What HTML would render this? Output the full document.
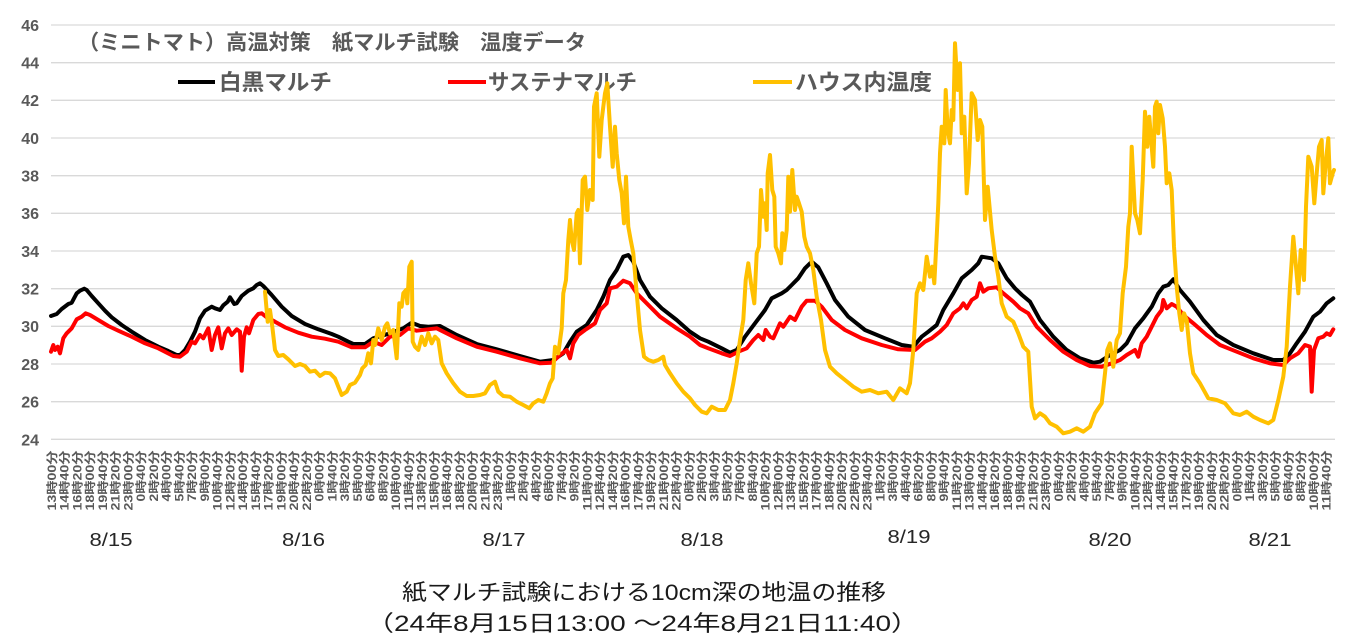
<!DOCTYPE html>
<html><head><meta charset="utf-8"><style>
html,body{margin:0;padding:0;background:#fff;}
svg{display:block;}
text{font-family:"Liberation Sans","Noto Sans CJK JP",sans-serif;}
</style></head><body>
<svg width="1348" height="637" viewBox="0 0 1348 637" xmlns="http://www.w3.org/2000/svg">
<rect width="1348" height="637" fill="#fff"/>
<g stroke="#d9d9d9" stroke-width="1.3">
<line x1="51" x2="1335" y1="25" y2="25"/>
<line x1="51" x2="1335" y1="62.7" y2="62.7"/>
<line x1="51" x2="1335" y1="100.3" y2="100.3"/>
<line x1="51" x2="1335" y1="138" y2="138"/>
<line x1="51" x2="1335" y1="175.7" y2="175.7"/>
<line x1="51" x2="1335" y1="213.3" y2="213.3"/>
<line x1="51" x2="1335" y1="251" y2="251"/>
<line x1="51" x2="1335" y1="288.7" y2="288.7"/>
<line x1="51" x2="1335" y1="326.3" y2="326.3"/>
<line x1="51" x2="1335" y1="364" y2="364"/>
<line x1="51" x2="1335" y1="401.7" y2="401.7"/>
<line x1="51" x2="1335" y1="439.3" y2="439.3"/>
</g>
<g fill="#595959" font-size="16" font-weight="bold" text-anchor="end">
<text x="39" y="31">46</text>
<text x="39" y="68.5">44</text>
<text x="39" y="106">42</text>
<text x="39" y="144">40</text>
<text x="39" y="181.5">38</text>
<text x="39" y="219">36</text>
<text x="39" y="257">34</text>
<text x="39" y="294.5">32</text>
<text x="39" y="332">30</text>
<text x="39" y="370">28</text>
<text x="39" y="407.5">26</text>
<text x="39" y="445.5">24</text>
</g>
<text x="78" y="49.5" fill="#595959" font-size="21" font-weight="bold" textLength="508" lengthAdjust="spacingAndGlyphs">（ミニトマト）高温対策　紙マルチ試験　温度データ</text>
<line x1="178" x2="215" y1="82" y2="82" stroke="#000" stroke-width="4"/>
<text x="219" y="90" fill="#595959" font-size="22" font-weight="bold" textLength="113" lengthAdjust="spacingAndGlyphs">白黒マルチ</text>
<line x1="448" x2="486" y1="82" y2="82" stroke="#ff0000" stroke-width="4"/>
<text x="488" y="90" fill="#595959" font-size="22" font-weight="bold" textLength="149" lengthAdjust="spacingAndGlyphs">サステナマルチ</text>
<line x1="753" x2="792" y1="82" y2="82" stroke="#ffc000" stroke-width="4"/>
<text x="795" y="90" fill="#595959" font-size="22" font-weight="bold" textLength="137" lengthAdjust="spacingAndGlyphs">ハウス内温度</text>

<g fill="none" stroke-linejoin="round" stroke-linecap="round" stroke-width="4">
<polyline stroke="#000" points="51,316 56.7,314 61.7,309 68.3,304 71.7,302.7 76.7,293.3 80,290.7 84.3,288.7 86.7,290 91.7,296 98.3,303.3 105,310.7 111.7,317.3 121.7,325 131.7,331.7 145,340 158.3,346.7 168.3,351 176.7,355 180,355 185,350 190,341.7 195,331.7 200,318.3 205,310.7 211.7,306.7 215,308.3 220,310 223.3,305.3 227.7,301.7 230,297.3 234.3,304 236.7,303.3 241.7,296 248.3,290.7 253.3,288.3 256.7,285 260,283.3 263.3,286 271.7,295 281.7,306.7 291.7,316 305,324 318.3,329.3 331.7,334 338.3,336.7 348.3,341.7 353.3,344 365,344 373.3,338.3 390,333.3 403.3,328.3 411.7,322.7 420,326 428.3,326.7 440,326 456.7,335 476.7,344 496.7,349.3 520,356 540,361.7 553.3,360 563.3,353.3 570,341.7 576.7,331.7 586.7,325 596.7,310 603.3,296.7 610,280 616.7,270 623.3,256.7 628.3,255 633.3,261.7 640,280 650,296.7 661.7,308.3 676.7,320 690,331.7 700,338.3 708.3,341.7 721.7,348.3 730,352.7 736.7,350 745,336.7 755,323.3 765,310 771.7,298.3 781.7,293.3 786.7,290 791.7,285 798.3,278.3 805,268.3 811.7,261.7 818.3,267.3 826.7,283.3 835,300 848.3,316.7 865,330 885,338.3 901.7,345 913.3,346.7 921.7,336.7 928.3,331.7 936.7,325 943.3,310 953.3,293.3 961.7,278.3 971.7,270 978.3,263.3 981.7,256.7 991.7,258.3 998.3,263.3 1006.7,278.3 1015,288.3 1022,295 1030,301.7 1040,320 1053.3,336.7 1066.7,350 1080,358.3 1093.3,362.7 1100,361.7 1110,355 1120,350 1126.7,343.3 1135,328.3 1143.3,318.3 1151.7,306.7 1158.3,293.3 1163.3,286.7 1168.3,285 1173.3,279.3 1180,290 1190,301.7 1203.3,320 1216.7,335 1233.3,345 1253.3,353.3 1273.3,360 1283.3,360 1290,353.3 1296.7,343.3 1305,331.7 1313.3,316.7 1320,311.7 1326.7,303.3 1333.3,298.3"/>
<polyline stroke="#ff0000" points="51,351.7 53.3,345 55,350 57.7,346.7 60,353.3 63.3,338.3 66.7,333.3 71.7,328.3 76.7,319.3 81.7,316.7 85.7,313.3 90,315 98.3,320 108.3,326 118.3,330.7 131.7,336.7 145,343.3 158.3,348.3 173.3,356 180,356.7 186.7,351.7 191.7,341.7 195,343.3 200,335 203.3,338.3 208.3,328.3 211.7,350 215,335 218.3,327.3 221.7,348.3 225,333.3 228.3,328.3 231.7,335 236.7,329.3 240,331.7 241.7,370.7 244,336.7 246.7,327.3 249,333.3 253.3,320 258.3,314 261.7,313.3 266.7,317.3 275,321.7 285,327.3 298.3,332.7 311.7,336.7 325,338.7 338.3,341.7 351.7,347.3 365,347.3 373.3,341.7 381.7,345 390,336.7 400,335 408.3,328.3 416.7,330.7 436.7,328.3 456.7,338.3 476.7,346.7 496.7,351.7 520,358.3 540,363.3 551.7,362.7 560,355 566.7,350 570,358.3 573.3,343.3 578.3,335 585,330 590,326.7 595,323.3 600,310 606.7,303.3 610,288.3 616.7,286.7 623.3,280.7 630,283.3 636.7,293.3 646.7,303.3 660,316.7 676.7,328.3 690,336.7 700,345 708.3,348.3 721.7,353.3 730,356 738.3,351.7 746.7,348.3 753.3,340 758.3,335 763.3,340 765.7,330 770,336.7 773.3,338.3 780,323.3 783.3,326.7 790,316.7 795,320 801.7,306.7 806.7,300.7 815,300.7 821.7,306.7 831.7,320 845,330 861.7,338.3 881.7,345 898.3,349.3 915,350 925,341.7 931.7,338.3 940,331.7 946.7,325 953.3,313.3 960,308.3 963.3,303.3 966.7,308.3 971.7,300 976.7,296.7 980,283.3 983.3,291.7 988.3,288.3 996.7,287.3 1003.3,293.3 1013.3,301.7 1020,308.3 1028.3,313.3 1036.7,326.7 1050,340 1063.3,351.7 1076.7,360 1090,366 1101.7,366.7 1111.7,363.3 1120,360 1126.7,355 1135,350 1138.3,356.7 1141.7,343.3 1146.7,336.7 1151.7,326.7 1156.7,316.7 1161.7,310 1163.3,300 1166.7,308.3 1171.7,304 1176.7,306.7 1183.3,315 1193.3,323.3 1206.7,335 1220,345 1236.7,351.7 1253.3,358.3 1270,363.3 1283.3,365 1290,358.3 1298.3,353.3 1305,345 1310,346.7 1311.7,391.7 1314,350 1318.3,338.3 1323.3,336.7 1326.7,333.3 1330,335 1333.3,329.3"/>
<polyline stroke="#ffc000" points="265,291.7 267.7,321.7 270,310 272.3,326.7 275,350 278.3,356 283.3,355 288.3,359.3 295,366 300,364 305,366 310,371.7 315,370.7 320,376 325,372.7 330,373.3 335,378.3 338.3,386.7 341.7,395 346.7,391.7 350,385 355,382.7 360,375 362.3,368.3 365.7,365 368.3,353.3 371,363.3 373.3,340 375,345 378.3,328.3 381.7,340 385,326.7 387.3,323.3 390,333.3 393.3,330 396.7,358.3 399.3,303.3 401.7,306.7 403.3,293.3 406,290 407.3,303.3 409.3,266.7 411.7,261.7 412.7,341.7 415,346.7 418.3,350 421.7,336.7 425,345 428.3,333.3 431.7,343.3 435,336.7 438.3,340 441.7,363.3 446.7,373.3 453.3,383.3 460,391.7 466.7,396 473.3,396 480,395 485,393.3 490,385 495,381.7 498.3,391.7 503.3,396 510,396.7 516.7,401.7 523.3,405 529.3,408.3 533.3,403.3 538.3,400 543.3,401.7 546.7,393.3 550,383.3 552.7,378.3 555,346.7 558.3,353.3 561.7,328.3 563.3,293.3 566,280 568.3,240 570,220 571.7,240 574,250 576.7,213.3 578.3,210 580,263.3 582.7,180 585,176.7 587.3,210 590,190 592.7,200 594,106.7 596.7,93.3 599.3,156.7 601.7,120 603.3,106.7 605,93.3 607.3,83.3 610,126.7 612.7,166.7 615,126.7 616.7,153.3 619.3,180 621.7,193.3 624,223.3 626,176.7 628.3,226.7 630.7,240 633.3,253.3 636.7,293.3 640,330 644,356.7 648.3,360 653.3,361.7 658.3,360 663.3,356.7 665,365 670,373.3 676.7,383.3 683.3,391.7 690,398.3 695,405 701.7,411.7 706.7,413.3 711.7,406.7 718.3,410 725,410 730,400 733.3,383.3 736.7,363.3 740,340 743.3,320 745.7,280 748.3,263.3 751,283.3 754.3,303.3 756.7,253.3 759,246.7 761,190 763.3,216.7 765,203.3 766.7,230 767.7,173.3 770,155 772.3,190 774.3,196.7 775.7,246.7 778.3,253.3 781,263.3 782.3,233.3 784.3,250 786.7,230 788.3,176.7 790,211.7 792.3,170 795,210 796.7,196.7 799,203.3 801.7,211.7 804.3,236.7 806.7,246.7 810,253.3 813.3,270 816.7,296.7 821,320 825,350 830,366.7 836.7,373.3 845,380 853.3,386.7 861.7,391.7 870,390 878.3,393.3 886.7,391.7 893.3,400 900,388.3 906.7,393.3 910,383.3 913.3,350 916.7,293.3 920,283.3 923.3,290 926.7,256.7 930,276.7 932.3,266.7 934.3,283.3 936.7,236.7 938.3,203.3 940,153.3 941.7,126.7 944.3,143.3 945.7,90 947.7,130 950,143.3 951.7,110 953.3,120 955,43.3 957.7,90 960,63.3 961.7,133.3 964.3,116.7 966.7,193.3 969,163.3 971.7,93.3 975,100 977.7,140 980,120 982.3,126.7 985,220 987.7,186.7 991.7,230 995,256.7 998.3,276.7 1001.7,303.3 1006.7,316.7 1013.3,321.7 1018.3,333.3 1023.3,346.7 1028.3,351.7 1031.7,406.7 1035,418.3 1040,413.3 1045,416.7 1050,423.3 1056.7,426.7 1063.3,433.3 1070,431.7 1076.7,428.3 1083.3,431.7 1090,426.7 1095,413.3 1101.7,403.3 1105,373.3 1107.3,350 1110,343.3 1113.3,366.7 1116.7,340 1120,333.3 1122.7,293.3 1126,266.7 1128.3,226.7 1130,213.3 1131.7,146.7 1135,213.3 1137.3,220 1140,233.3 1142.7,180 1145,111.7 1147.3,146.7 1149.3,116.7 1151.7,146.7 1153.3,166.7 1155,106.7 1156.7,101.7 1158.3,133.3 1160,105 1162.7,118.3 1165,146.7 1166.7,183.3 1169.3,173.3 1171.7,190 1174,246.7 1176.7,286.7 1179.3,313.3 1181.7,330 1184,313.3 1186.7,320 1190,353.3 1193.3,373.3 1200,383.3 1208.3,398.3 1216.7,400 1225,403.3 1233.3,413.3 1240,415 1246.7,411.7 1253.3,416.7 1260,420 1268.3,423.3 1273.3,420 1278.3,400 1283.3,376.7 1286.7,346.7 1290,286.7 1293.3,236.7 1296,266.7 1298.3,293.3 1300.7,250 1304,280 1306,206.7 1308.3,156.7 1311.7,166.7 1314.3,203.3 1316.7,173.3 1319,146.7 1321.7,140 1323.3,193.3 1326,160 1328.3,138.3 1330,183.3 1332.7,173.3 1334,170"/>
</g>

<g fill="#595959" font-size="11.5" font-weight="bold">
<text transform="translate(56,510.5) rotate(-90)" textLength="60" lengthAdjust="spacingAndGlyphs">13時00分</text>
<text transform="translate(68.7,510.5) rotate(-90)" textLength="60" lengthAdjust="spacingAndGlyphs">14時40分</text>
<text transform="translate(81.5,510.5) rotate(-90)" textLength="60" lengthAdjust="spacingAndGlyphs">16時20分</text>
<text transform="translate(94.2,510.5) rotate(-90)" textLength="60" lengthAdjust="spacingAndGlyphs">18時00分</text>
<text transform="translate(107,510.5) rotate(-90)" textLength="60" lengthAdjust="spacingAndGlyphs">19時40分</text>
<text transform="translate(119.7,510.5) rotate(-90)" textLength="60" lengthAdjust="spacingAndGlyphs">21時20分</text>
<text transform="translate(132.5,510.5) rotate(-90)" textLength="60" lengthAdjust="spacingAndGlyphs">23時00分</text>
<text transform="translate(145.2,501.5) rotate(-90)" textLength="51" lengthAdjust="spacingAndGlyphs">0時40分</text>
<text transform="translate(158,501.5) rotate(-90)" textLength="51" lengthAdjust="spacingAndGlyphs">2時20分</text>
<text transform="translate(170.7,501.5) rotate(-90)" textLength="51" lengthAdjust="spacingAndGlyphs">4時00分</text>
<text transform="translate(183.5,501.5) rotate(-90)" textLength="51" lengthAdjust="spacingAndGlyphs">5時40分</text>
<text transform="translate(196.2,501.5) rotate(-90)" textLength="51" lengthAdjust="spacingAndGlyphs">7時20分</text>
<text transform="translate(208.9,501.5) rotate(-90)" textLength="51" lengthAdjust="spacingAndGlyphs">9時00分</text>
<text transform="translate(221.7,510.5) rotate(-90)" textLength="60" lengthAdjust="spacingAndGlyphs">10時40分</text>
<text transform="translate(234.4,510.5) rotate(-90)" textLength="60" lengthAdjust="spacingAndGlyphs">12時20分</text>
<text transform="translate(247.2,510.5) rotate(-90)" textLength="60" lengthAdjust="spacingAndGlyphs">14時00分</text>
<text transform="translate(259.9,510.5) rotate(-90)" textLength="60" lengthAdjust="spacingAndGlyphs">15時40分</text>
<text transform="translate(272.7,510.5) rotate(-90)" textLength="60" lengthAdjust="spacingAndGlyphs">17時20分</text>
<text transform="translate(285.4,510.5) rotate(-90)" textLength="60" lengthAdjust="spacingAndGlyphs">19時00分</text>
<text transform="translate(298.2,510.5) rotate(-90)" textLength="60" lengthAdjust="spacingAndGlyphs">20時40分</text>
<text transform="translate(310.9,510.5) rotate(-90)" textLength="60" lengthAdjust="spacingAndGlyphs">22時20分</text>
<text transform="translate(323.6,501.5) rotate(-90)" textLength="51" lengthAdjust="spacingAndGlyphs">0時00分</text>
<text transform="translate(336.4,501.5) rotate(-90)" textLength="51" lengthAdjust="spacingAndGlyphs">1時40分</text>
<text transform="translate(349.1,501.5) rotate(-90)" textLength="51" lengthAdjust="spacingAndGlyphs">3時20分</text>
<text transform="translate(361.9,501.5) rotate(-90)" textLength="51" lengthAdjust="spacingAndGlyphs">5時00分</text>
<text transform="translate(374.6,501.5) rotate(-90)" textLength="51" lengthAdjust="spacingAndGlyphs">6時40分</text>
<text transform="translate(387.4,501.5) rotate(-90)" textLength="51" lengthAdjust="spacingAndGlyphs">8時20分</text>
<text transform="translate(400.1,510.5) rotate(-90)" textLength="60" lengthAdjust="spacingAndGlyphs">10時00分</text>
<text transform="translate(412.9,510.5) rotate(-90)" textLength="60" lengthAdjust="spacingAndGlyphs">11時40分</text>
<text transform="translate(425.6,510.5) rotate(-90)" textLength="60" lengthAdjust="spacingAndGlyphs">13時20分</text>
<text transform="translate(438.4,510.5) rotate(-90)" textLength="60" lengthAdjust="spacingAndGlyphs">15時00分</text>
<text transform="translate(451.1,510.5) rotate(-90)" textLength="60" lengthAdjust="spacingAndGlyphs">16時40分</text>
<text transform="translate(463.8,510.5) rotate(-90)" textLength="60" lengthAdjust="spacingAndGlyphs">18時20分</text>
<text transform="translate(476.6,510.5) rotate(-90)" textLength="60" lengthAdjust="spacingAndGlyphs">20時00分</text>
<text transform="translate(489.3,510.5) rotate(-90)" textLength="60" lengthAdjust="spacingAndGlyphs">21時40分</text>
<text transform="translate(502.1,510.5) rotate(-90)" textLength="60" lengthAdjust="spacingAndGlyphs">23時20分</text>
<text transform="translate(514.8,501.5) rotate(-90)" textLength="51" lengthAdjust="spacingAndGlyphs">1時00分</text>
<text transform="translate(527.6,501.5) rotate(-90)" textLength="51" lengthAdjust="spacingAndGlyphs">2時40分</text>
<text transform="translate(540.3,501.5) rotate(-90)" textLength="51" lengthAdjust="spacingAndGlyphs">4時20分</text>
<text transform="translate(553.1,501.5) rotate(-90)" textLength="51" lengthAdjust="spacingAndGlyphs">6時00分</text>
<text transform="translate(565.8,501.5) rotate(-90)" textLength="51" lengthAdjust="spacingAndGlyphs">7時40分</text>
<text transform="translate(578.5,501.5) rotate(-90)" textLength="51" lengthAdjust="spacingAndGlyphs">9時20分</text>
<text transform="translate(591.3,510.5) rotate(-90)" textLength="60" lengthAdjust="spacingAndGlyphs">11時00分</text>
<text transform="translate(604,510.5) rotate(-90)" textLength="60" lengthAdjust="spacingAndGlyphs">12時40分</text>
<text transform="translate(616.8,510.5) rotate(-90)" textLength="60" lengthAdjust="spacingAndGlyphs">14時20分</text>
<text transform="translate(629.5,510.5) rotate(-90)" textLength="60" lengthAdjust="spacingAndGlyphs">16時00分</text>
<text transform="translate(642.3,510.5) rotate(-90)" textLength="60" lengthAdjust="spacingAndGlyphs">17時40分</text>
<text transform="translate(655,510.5) rotate(-90)" textLength="60" lengthAdjust="spacingAndGlyphs">19時20分</text>
<text transform="translate(667.8,510.5) rotate(-90)" textLength="60" lengthAdjust="spacingAndGlyphs">21時00分</text>
<text transform="translate(680.5,510.5) rotate(-90)" textLength="60" lengthAdjust="spacingAndGlyphs">22時40分</text>
<text transform="translate(693.3,501.5) rotate(-90)" textLength="51" lengthAdjust="spacingAndGlyphs">0時20分</text>
<text transform="translate(706,501.5) rotate(-90)" textLength="51" lengthAdjust="spacingAndGlyphs">2時00分</text>
<text transform="translate(718.7,501.5) rotate(-90)" textLength="51" lengthAdjust="spacingAndGlyphs">3時40分</text>
<text transform="translate(731.5,501.5) rotate(-90)" textLength="51" lengthAdjust="spacingAndGlyphs">5時20分</text>
<text transform="translate(744.2,501.5) rotate(-90)" textLength="51" lengthAdjust="spacingAndGlyphs">7時00分</text>
<text transform="translate(757,501.5) rotate(-90)" textLength="51" lengthAdjust="spacingAndGlyphs">8時40分</text>
<text transform="translate(769.7,510.5) rotate(-90)" textLength="60" lengthAdjust="spacingAndGlyphs">10時20分</text>
<text transform="translate(782.5,510.5) rotate(-90)" textLength="60" lengthAdjust="spacingAndGlyphs">12時00分</text>
<text transform="translate(795.2,510.5) rotate(-90)" textLength="60" lengthAdjust="spacingAndGlyphs">13時40分</text>
<text transform="translate(808,510.5) rotate(-90)" textLength="60" lengthAdjust="spacingAndGlyphs">15時20分</text>
<text transform="translate(820.7,510.5) rotate(-90)" textLength="60" lengthAdjust="spacingAndGlyphs">17時00分</text>
<text transform="translate(833.4,510.5) rotate(-90)" textLength="60" lengthAdjust="spacingAndGlyphs">18時40分</text>
<text transform="translate(846.2,510.5) rotate(-90)" textLength="60" lengthAdjust="spacingAndGlyphs">20時20分</text>
<text transform="translate(858.9,510.5) rotate(-90)" textLength="60" lengthAdjust="spacingAndGlyphs">22時00分</text>
<text transform="translate(871.7,510.5) rotate(-90)" textLength="60" lengthAdjust="spacingAndGlyphs">23時40分</text>
<text transform="translate(884.4,501.5) rotate(-90)" textLength="51" lengthAdjust="spacingAndGlyphs">1時20分</text>
<text transform="translate(897.2,501.5) rotate(-90)" textLength="51" lengthAdjust="spacingAndGlyphs">3時00分</text>
<text transform="translate(909.9,501.5) rotate(-90)" textLength="51" lengthAdjust="spacingAndGlyphs">4時40分</text>
<text transform="translate(922.7,501.5) rotate(-90)" textLength="51" lengthAdjust="spacingAndGlyphs">6時20分</text>
<text transform="translate(935.4,501.5) rotate(-90)" textLength="51" lengthAdjust="spacingAndGlyphs">8時00分</text>
<text transform="translate(948.2,501.5) rotate(-90)" textLength="51" lengthAdjust="spacingAndGlyphs">9時40分</text>
<text transform="translate(960.9,510.5) rotate(-90)" textLength="60" lengthAdjust="spacingAndGlyphs">11時20分</text>
<text transform="translate(973.6,510.5) rotate(-90)" textLength="60" lengthAdjust="spacingAndGlyphs">13時00分</text>
<text transform="translate(986.4,510.5) rotate(-90)" textLength="60" lengthAdjust="spacingAndGlyphs">14時40分</text>
<text transform="translate(999.1,510.5) rotate(-90)" textLength="60" lengthAdjust="spacingAndGlyphs">16時20分</text>
<text transform="translate(1011.9,510.5) rotate(-90)" textLength="60" lengthAdjust="spacingAndGlyphs">18時00分</text>
<text transform="translate(1024.6,510.5) rotate(-90)" textLength="60" lengthAdjust="spacingAndGlyphs">19時40分</text>
<text transform="translate(1037.4,510.5) rotate(-90)" textLength="60" lengthAdjust="spacingAndGlyphs">21時20分</text>
<text transform="translate(1050.1,510.5) rotate(-90)" textLength="60" lengthAdjust="spacingAndGlyphs">23時00分</text>
<text transform="translate(1062.9,501.5) rotate(-90)" textLength="51" lengthAdjust="spacingAndGlyphs">0時40分</text>
<text transform="translate(1075.6,501.5) rotate(-90)" textLength="51" lengthAdjust="spacingAndGlyphs">2時20分</text>
<text transform="translate(1088.3,501.5) rotate(-90)" textLength="51" lengthAdjust="spacingAndGlyphs">4時00分</text>
<text transform="translate(1101.1,501.5) rotate(-90)" textLength="51" lengthAdjust="spacingAndGlyphs">5時40分</text>
<text transform="translate(1113.8,501.5) rotate(-90)" textLength="51" lengthAdjust="spacingAndGlyphs">7時20分</text>
<text transform="translate(1126.6,501.5) rotate(-90)" textLength="51" lengthAdjust="spacingAndGlyphs">9時00分</text>
<text transform="translate(1139.3,510.5) rotate(-90)" textLength="60" lengthAdjust="spacingAndGlyphs">10時40分</text>
<text transform="translate(1152.1,510.5) rotate(-90)" textLength="60" lengthAdjust="spacingAndGlyphs">12時20分</text>
<text transform="translate(1164.8,510.5) rotate(-90)" textLength="60" lengthAdjust="spacingAndGlyphs">14時00分</text>
<text transform="translate(1177.6,510.5) rotate(-90)" textLength="60" lengthAdjust="spacingAndGlyphs">15時40分</text>
<text transform="translate(1190.3,510.5) rotate(-90)" textLength="60" lengthAdjust="spacingAndGlyphs">17時20分</text>
<text transform="translate(1203.1,510.5) rotate(-90)" textLength="60" lengthAdjust="spacingAndGlyphs">19時00分</text>
<text transform="translate(1215.8,510.5) rotate(-90)" textLength="60" lengthAdjust="spacingAndGlyphs">20時40分</text>
<text transform="translate(1228.5,510.5) rotate(-90)" textLength="60" lengthAdjust="spacingAndGlyphs">22時20分</text>
<text transform="translate(1241.3,501.5) rotate(-90)" textLength="51" lengthAdjust="spacingAndGlyphs">0時00分</text>
<text transform="translate(1254,501.5) rotate(-90)" textLength="51" lengthAdjust="spacingAndGlyphs">1時40分</text>
<text transform="translate(1266.8,501.5) rotate(-90)" textLength="51" lengthAdjust="spacingAndGlyphs">3時20分</text>
<text transform="translate(1279.5,501.5) rotate(-90)" textLength="51" lengthAdjust="spacingAndGlyphs">5時00分</text>
<text transform="translate(1292.3,501.5) rotate(-90)" textLength="51" lengthAdjust="spacingAndGlyphs">6時40分</text>
<text transform="translate(1305,501.5) rotate(-90)" textLength="51" lengthAdjust="spacingAndGlyphs">8時20分</text>
<text transform="translate(1317.8,510.5) rotate(-90)" textLength="60" lengthAdjust="spacingAndGlyphs">10時00分</text>
<text transform="translate(1330.5,510.5) rotate(-90)" textLength="60" lengthAdjust="spacingAndGlyphs">11時40分</text>
</g>

<g fill="#262626" font-size="18" text-anchor="middle">
<text x="111" y="546" textLength="43" lengthAdjust="spacingAndGlyphs">8/15</text>
<text x="303.5" y="546" textLength="43" lengthAdjust="spacingAndGlyphs">8/16</text>
<text x="504" y="546" textLength="43" lengthAdjust="spacingAndGlyphs">8/17</text>
<text x="702" y="546" textLength="43" lengthAdjust="spacingAndGlyphs">8/18</text>
<text x="909" y="543" textLength="43" lengthAdjust="spacingAndGlyphs">8/19</text>
<text x="1110" y="546" textLength="43" lengthAdjust="spacingAndGlyphs">8/20</text>
<text x="1270" y="546" textLength="43" lengthAdjust="spacingAndGlyphs">8/21</text>
</g>

<text x="402" y="600" fill="#1a1a1a" font-size="22" textLength="484" lengthAdjust="spacingAndGlyphs">紙マルチ試験における10cm深の地温の推移</text>
<text x="366" y="631" fill="#1a1a1a" font-size="22" textLength="553" lengthAdjust="spacingAndGlyphs">（24年8月15日13:00 ～24年8月21日11:40）</text>
</svg>
</body></html>
